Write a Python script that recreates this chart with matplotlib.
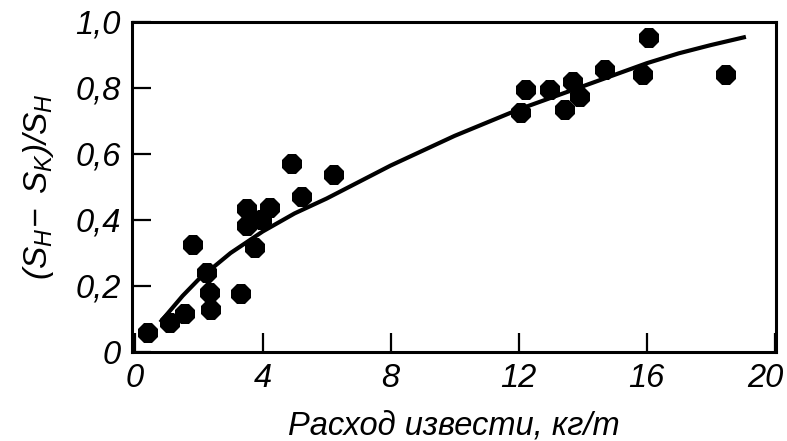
import matplotlib
matplotlib.use("Agg")
import matplotlib.pyplot as plt
from matplotlib.transforms import ScaledTranslation

# Data points
lime_x = [0.43, 1.10, 1.57, 1.83, 2.27, 2.37, 2.40, 3.31, 3.52, 3.52, 3.76, 3.97, 4.23,
          4.93, 5.22, 6.24, 12.06, 12.23, 12.98, 13.45, 13.69, 13.92, 14.70, 15.89, 16.08, 18.48]
ratio_y = [0.058, 0.088, 0.115, 0.324, 0.238, 0.178, 0.128, 0.176, 0.432, 0.381, 0.314, 0.399, 0.436,
           0.569, 0.469, 0.536, 0.723, 0.795, 0.793, 0.733, 0.817, 0.773, 0.855, 0.840, 0.951, 0.840]

# Trend curve
curve_x = [0.8, 1.5, 2, 3, 4, 5, 6, 7, 8, 9, 10, 11, 12, 13, 14, 15, 16, 17, 18, 19.1]
curve_y = [0.09, 0.17, 0.22, 0.30, 0.365, 0.42, 0.465, 0.515, 0.565, 0.61, 0.655, 0.695,
           0.735, 0.77, 0.805, 0.84, 0.875, 0.905, 0.93, 0.955]

x_ticks = [0, 4, 8, 12, 16, 20]
x_tick_labels = ["0", "4", "8", "12", "16", "20"]
y_ticks = [0, 0.2, 0.4, 0.6, 0.8, 1.0]
y_tick_labels = ["0", "0,2", "0,4", "0,6", "0,8", "1,0"]

plt.rcParams['font.family'] = ['Liberation Sans', 'DejaVu Sans']
plt.rcParams['font.style'] = 'italic'
plt.rcParams['mathtext.fontset'] = 'custom'
plt.rcParams['mathtext.rm'] = 'Liberation Sans:italic'
plt.rcParams['mathtext.it'] = 'Liberation Sans:italic'

fig = plt.figure(figsize=(7.87, 4.41), dpi=100)
ax = fig.add_axes([132/787, 1 - 352/441, (776 - 132)/787, (352 - 22)/441])

ax.plot(curve_x, curve_y, color='black', lw=3.0, solid_capstyle='butt', zorder=2)
ax.plot(lime_x, ratio_y, linestyle='none', marker='8', ms=15.5, color='black',
        markeredgewidth=0, zorder=3)

ax.set_xlim(-0.08, 20.04)
ax.set_ylim(0, 1.0)
ax.set_xticks(x_ticks)
ax.set_xticklabels(x_tick_labels)
ax.set_yticks(y_ticks)
ax.set_yticklabels(y_tick_labels)
ax.tick_params(direction='in', length=14, width=1.6, labelsize=23.5, pad=8,
               top=False, right=False)
for lab in ax.get_xticklabels() + ax.get_yticklabels():
    lab.set_fontstyle('italic')
last = ax.get_xticklabels()[-1]
last.set_transform(last.get_transform() + ScaledTranslation(-9/100, 0, fig.dpi_scale_trans))
for sp in ax.spines.values():
    sp.set_linewidth(2.2)

ax.set_xlabel("Расход извести, кг/т", fontsize=23.5, fontstyle='italic', labelpad=12)
ax.set_ylabel(r"$(S_H\!-\ S_K)/S_H$", fontsize=24, labelpad=14)

fig.savefig("out.png", dpi=100)
